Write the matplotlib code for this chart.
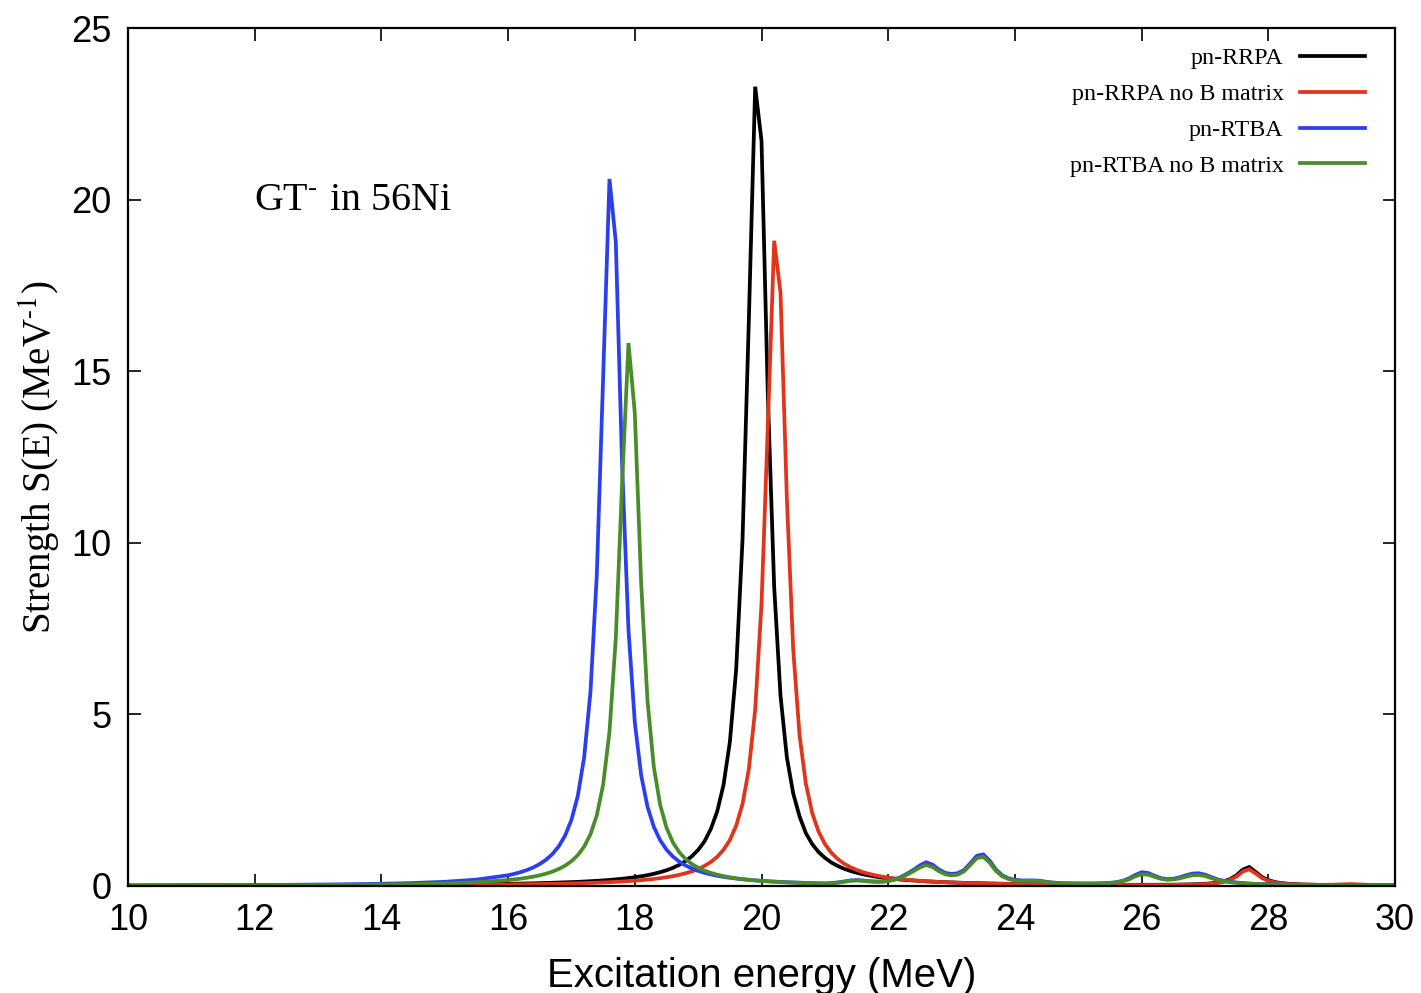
import numpy as np
import matplotlib
matplotlib.use("Agg")
import matplotlib.pyplot as plt

plt.rcParams["mathtext.fontset"] = "stix"

# Excitation energy grid (MeV): coarse in the low tail, 0.1 MeV through the peaks
energy_low = [10.0, 10.5, 11.0, 11.5, 12.0, 12.5, 13.0, 13.5, 14.0, 14.5, 15.0, 15.5]
energy_mid = list(np.round(np.arange(160, 286) / 10.0, 1))
energy_high = [28.8, 29.0, 29.3, 29.6, 30.0]
energy = np.array(energy_low + energy_mid + energy_high)

# Strength S(E) in MeV^-1
pn_rrpa = [
    0.010, 0.011, 0.012, 0.0135, 0.015, 0.017, 0.020, 0.023, 0.027, 0.033, 0.039, 0.049,
    0.062, 0.065, 0.069, 0.072, 0.077, 0.081, 0.086, 0.092, 0.098, 0.104,
    0.111, 0.119, 0.128, 0.138, 0.149, 0.161, 0.175, 0.191, 0.209, 0.230,
    0.254, 0.282, 0.315, 0.354, 0.401, 0.457, 0.527, 0.613, 0.723, 0.864,
    1.05, 1.30, 1.66, 2.17, 2.94, 4.19, 6.31, 10.08, 16.49, 23.29,
    21.71, 14.28, 8.71, 5.54, 3.75, 2.70, 2.03, 1.54, 1.22, 0.99,
    0.82, 0.687, 0.585, 0.504, 0.439, 0.386, 0.341, 0.304, 0.273, 0.246,
    0.223, 0.203, 0.186, 0.170, 0.157, 0.145, 0.134, 0.125, 0.116, 0.109,
    0.102, 0.096, 0.090, 0.085, 0.080, 0.075, 0.071, 0.068, 0.064, 0.061,
    0.058, 0.055, 0.053, 0.050, 0.048, 0.046, 0.044, 0.042, 0.041, 0.039,
    0.040, 0.039, 0.038, 0.037, 0.036, 0.036, 0.035, 0.035, 0.035, 0.034,
    0.034, 0.033, 0.034, 0.035, 0.036, 0.037, 0.040, 0.043, 0.047, 0.053,
    0.062, 0.076, 0.098, 0.135, 0.20, 0.315, 0.48, 0.552, 0.41, 0.26,
    0.17, 0.116, 0.085, 0.066, 0.054, 0.045,
    0.031, 0.025, 0.021, 0.018, 0.016,
]

pn_rrpa_no_b = [
    0.0074, 0.0081, 0.0090, 0.0101, 0.0114, 0.0129, 0.0147, 0.0170, 0.0199, 0.0235, 0.0282, 0.0344,
    0.0430, 0.0451, 0.0474, 0.0498, 0.0524, 0.0552, 0.0583, 0.0616, 0.0652, 0.0692,
    0.0735, 0.0783, 0.0835, 0.0893, 0.0957, 0.1028, 0.1107, 0.1196, 0.1296, 0.1407,
    0.1536, 0.1682, 0.1850, 0.2044, 0.2271, 0.2537, 0.2853, 0.323, 0.369, 0.425,
    0.495, 0.584, 0.698, 0.849, 1.053, 1.339, 1.755, 2.388, 3.403, 5.134,
    8.22, 13.43, 18.80, 17.28, 11.30, 6.90, 4.397, 2.978, 2.127, 1.586,
    1.225, 0.972, 0.789, 0.653, 0.549, 0.468, 0.403, 0.351, 0.309, 0.273,
    0.244, 0.219, 0.197, 0.179, 0.163, 0.149, 0.137, 0.126, 0.116, 0.108,
    0.100, 0.093, 0.087, 0.082, 0.077, 0.072, 0.068, 0.064, 0.060, 0.057,
    0.054, 0.052, 0.049, 0.047, 0.044, 0.042, 0.040, 0.039, 0.037, 0.035,
    0.034, 0.033, 0.032, 0.031, 0.030, 0.030, 0.029, 0.029, 0.028, 0.028,
    0.028, 0.028, 0.028, 0.029, 0.029, 0.030, 0.032, 0.035, 0.039, 0.044,
    0.052, 0.066, 0.086, 0.119, 0.176, 0.278, 0.424, 0.485, 0.364, 0.230,
    0.148, 0.102, 0.075, 0.059, 0.048, 0.041,
    0.032, 0.035, 0.055, 0.030, 0.015,
]

pn_rtba = [
    0.0145, 0.0166, 0.0191, 0.0224, 0.0265, 0.0320, 0.0392, 0.0493, 0.0637, 0.0856, 0.121, 0.184,
    0.312, 0.354, 0.404, 0.466, 0.542, 0.640, 0.765, 0.931, 1.156, 1.470,
    1.928, 2.625, 3.746, 5.657, 9.068, 14.80, 20.60, 18.76, 12.23, 7.46,
    4.762, 3.229, 2.309, 1.723, 1.331, 1.057, 0.859, 0.711, 0.598, 0.510,
    0.439, 0.383, 0.336, 0.298, 0.265, 0.238, 0.215, 0.195, 0.177, 0.162,
    0.149, 0.137, 0.127, 0.118, 0.109, 0.102, 0.095, 0.089, 0.083, 0.078,
    0.074, 0.085, 0.10, 0.13, 0.16, 0.17, 0.16, 0.14, 0.13, 0.13,
    0.15, 0.19, 0.26, 0.36, 0.47, 0.60, 0.69, 0.62, 0.48, 0.38,
    0.35, 0.37, 0.47, 0.67, 0.88, 0.92, 0.74, 0.48, 0.31, 0.22,
    0.18, 0.16, 0.16, 0.16, 0.15, 0.12, 0.10, 0.085, 0.078, 0.075,
    0.073, 0.072, 0.072, 0.075, 0.08, 0.09, 0.11, 0.15, 0.22, 0.32,
    0.40, 0.38, 0.30, 0.23, 0.20, 0.21, 0.25, 0.31, 0.36, 0.37,
    0.33, 0.26, 0.19, 0.15, 0.12, 0.10, 0.085, 0.07, 0.06, 0.055,
    0.05, 0.045, 0.04, 0.037, 0.034, 0.032,
    0.027, 0.024, 0.021, 0.019, 0.017,
]

pn_rtba_no_b = [
    0.0102, 0.0116, 0.0133, 0.0155, 0.0182, 0.0218, 0.0264, 0.0327, 0.0415, 0.0544, 0.0746, 0.108,
    0.172, 0.191, 0.213, 0.240, 0.272, 0.311, 0.359, 0.418, 0.494, 0.592,
    0.721, 0.897, 1.145, 1.506, 2.059, 2.954, 4.489, 7.231, 11.75, 15.82,
    13.78, 8.829, 5.399, 3.466, 2.364, 1.698, 1.272, 0.986, 0.785, 0.639,
    0.530, 0.446, 0.381, 0.329, 0.287, 0.252, 0.223, 0.199, 0.179, 0.161,
    0.146, 0.133, 0.122, 0.112, 0.103, 0.095, 0.089, 0.082, 0.077, 0.072,
    0.067, 0.078, 0.095, 0.12, 0.15, 0.16, 0.15, 0.13, 0.12, 0.12,
    0.14, 0.18, 0.24, 0.33, 0.43, 0.54, 0.61, 0.55, 0.43, 0.34,
    0.31, 0.33, 0.43, 0.62, 0.81, 0.85, 0.68, 0.44, 0.28, 0.20,
    0.16, 0.15, 0.15, 0.15, 0.14, 0.11, 0.09, 0.078, 0.072, 0.07,
    0.068, 0.067, 0.067, 0.069, 0.074, 0.083, 0.10, 0.14, 0.19, 0.28,
    0.34, 0.33, 0.27, 0.21, 0.18, 0.19, 0.22, 0.27, 0.31, 0.32,
    0.29, 0.23, 0.17, 0.14, 0.11, 0.09, 0.075, 0.065, 0.056, 0.05,
    0.045, 0.041, 0.037, 0.034, 0.031, 0.029,
    0.025, 0.022, 0.019, 0.017, 0.015,
]

series_labels = ["pn-RRPA", "pn-RRPA no B matrix", "pn-RTBA", "pn-RTBA no B matrix"]
series_colors = ["#000000", "#e2341a", "#2b3ef2", "#4a8c2a"]
x_ticks = [10, 12, 14, 16, 18, 20, 22, 24, 26, 28, 30]
y_ticks = [0, 5, 10, 15, 20, 25]

sans = ["Liberation Sans", "DejaVu Sans"]
serif = ["Liberation Serif", "DejaVu Serif"]

fig = plt.figure(figsize=(14.21, 9.93), dpi=100)
ax = fig.add_axes([0.0901, 0.1078, 0.8916, 0.8640])

for values, label, color in zip([pn_rrpa, pn_rrpa_no_b, pn_rtba, pn_rtba_no_b],
                                series_labels, series_colors):
    ax.plot(energy, values, color=color, lw=2.7, label=label, solid_joinstyle="miter")

ax.set_xlim(10, 30)
ax.set_ylim(0, 25)
ax.set_xticks(x_ticks)
ax.set_yticks(y_ticks)
ax.tick_params(axis="both", which="major", direction="in", length=9, width=1.2,
               top=True, right=True, labelsize=26, pad=12)
for lab in ax.get_xticklabels() + ax.get_yticklabels():
    lab.set_fontfamily(sans)
for sp in ax.spines.values():
    sp.set_linewidth(1.6)

ax.set_xlabel("Excitation energy (MeV)", fontsize=29, family=sans, labelpad=14)
ax.set_ylabel(r"Strength S(E) (MeV$^{\text{-}1}$)", fontsize=28, family=serif, labelpad=6)

ax.text(0.0995, 0.788, r"GT$^{\text{-}}$ in 56Ni", transform=ax.transAxes,
        fontsize=28.8, family=serif, ha="left", va="baseline")

ax.legend(loc="upper right", bbox_to_anchor=(0.9842, 0.9883), borderaxespad=0,
          frameon=False, markerfirst=False,
          prop={"family": serif, "size": 17.3}, handlelength=2.7, handletextpad=0.7,
          labelspacing=0.58)

fig.savefig("out.png", dpi=100)
